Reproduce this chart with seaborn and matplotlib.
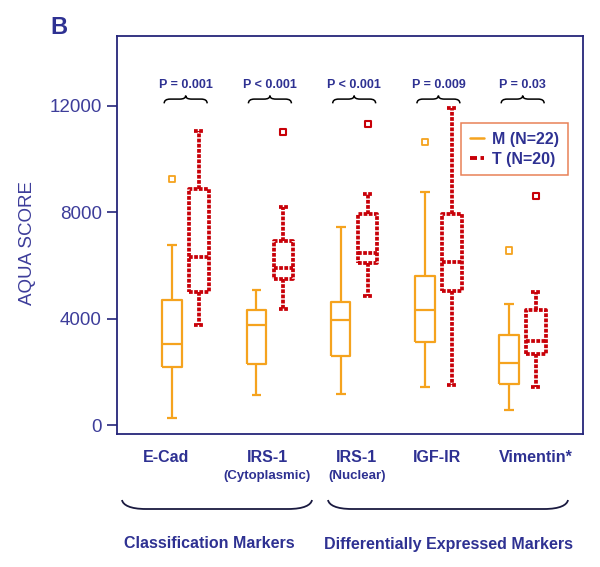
import numpy as np
import pandas as pd
import matplotlib
matplotlib.use("Agg")
import matplotlib.pyplot as plt
from matplotlib.path import Path
from matplotlib.patches import PathPatch
from matplotlib.lines import Line2D
import seaborn as sns

# ---------------- data ----------------
markers = ["E-Cad", "IRS-1 Cyto", "IRS-1 Nuc", "IGF-IR", "Vimentin*"]
groups = ["M", "T"]
legend_labels = ["M (N=22)", "T (N=20)"]

m_lo = [260, 1120, 1170, 1440, 580]
m_q1 = [2180, 2300, 2590, 3130, 1540]
m_med = [3060, 3770, 3970, 4310, 2320]
m_q3 = [4700, 4330, 4620, 5600, 3390]
m_hi = [6770, 5080, 7440, 8750, 4550]
m_out = [9250, np.nan, np.nan, 10640, 6560]

t_lo = [3750, 4360, 4860, 1500, 1440]
t_q1 = [5010, 5510, 6080, 5050, 2660]
t_med = [6300, 5910, 6480, 6120, 3180]
t_q3 = [8880, 6920, 7940, 7920, 4310]
t_hi = [11060, 8180, 8670, 11930, 4990]
t_out = [np.nan, 11030, 11320, np.nan, 8610]

p_values = ["P = 0.001", "P < 0.001", "P < 0.001", "P = 0.009", "P = 0.03"]
tick_labels = ["E-Cad", "IRS-1", "IRS-1", "IGF-IR", "Vimentin*"]
sub_labels = ["", "(Cytoplasmic)", "(Nuclear)", "", ""]
section_labels = ["Classification Markers", "Differentially Expressed Markers"]
y_ticks = [0, 4000, 8000, 12000]

# ---------------- styling ----------------
ORANGE = "#F5A31E"
RED = "#C80008"
TEXT = "#2E3192"
TICKTXT = "#3D3D9A"
SPINE = "#25257A"

sns.set_style("white")
plt.rcParams["font.family"] = ["Liberation Sans", "DejaVu Sans"]

W, H = 600, 567
fig = plt.figure(figsize=(6, 5.67), dpi=100)


def px(x, y):
    return x / W, 1 - y / H


ax = fig.add_axes([117 / W, 1 - 434 / H, (583 - 117) / W, (434 - 36) / H])

rows = []
for g, stats in [("M", (m_lo, m_q1, m_med, m_q3, m_hi)),
                 ("T", (t_lo, t_q1, t_med, t_q3, t_hi))]:
    for i, mk in enumerate(markers):
        for arr in stats:
            rows.append((mk, g, arr[i]))
df = pd.DataFrame(rows, columns=["marker", "group", "value"])

palette = {"M": ORANGE, "T": RED}
styles = {"M": ("-", 1.6), "T": ((0, (1.0, 0.38)), 2.7)}
WIDTH = 0.64
for g in groups:
    n0 = len(ax.lines)
    sns.boxplot(data=df[df["group"] == g], x="marker", y="value", hue="group",
                order=markers, hue_order=groups, palette=palette, dodge=True,
                width=WIDTH, gap=0.28, whis=(0, 100), fill=False,
                showfliers=False, linewidth=styles[g][1], legend=False, ax=ax)
    for ln in ax.lines[n0:]:
        ln.set_linestyle(styles[g][0])
        ln.set_linewidth(styles[g][1])
        ln.set_dash_capstyle("butt")
        ln.set_solid_capstyle("butt")

off = WIDTH / 4
for i in range(len(markers)):
    if not np.isnan(m_out[i]):
        ax.scatter(i - off, m_out[i], marker="s", s=20, facecolors="none",
                   edgecolors=ORANGE, linewidths=1.3, zorder=4)
    if not np.isnan(t_out[i]):
        ax.scatter(i + off, t_out[i], marker="s", s=18, facecolors="none",
                   edgecolors=RED, linewidths=1.5, zorder=4)

ax.set_xlim(-0.815, 4.716)
ax.set_ylim(-330, 14620)
ax.set_xlabel("")
ax.set_ylabel("")
ax.set_xticks([])
ax.set_yticks(y_ticks)
ax.set_yticklabels([str(v) for v in y_ticks])
ax.tick_params(axis="y", direction="out", length=7, width=1.2, color=SPINE,
               labelsize=13.5, labelcolor=TICKTXT, pad=4, left=True)
for sp in ax.spines.values():
    sp.set_visible(True)
    sp.set_color(SPINE)
    sp.set_linewidth(1.3)


# P-value braces
def brace(ax, xc, half, yb, ym, yt, r):
    x0, x1 = xc - half, xc + half
    verts = [(x0, yb), (x0, ym), (x0 + r, ym),
             (xc - r, ym), (xc, ym), (xc, yt),
             (xc, ym), (xc + r, ym),
             (x1 - r, ym), (x1, ym), (x1, yb)]
    codes = [Path.MOVETO, Path.CURVE3, Path.CURVE3,
             Path.LINETO, Path.CURVE3, Path.CURVE3,
             Path.CURVE3, Path.CURVE3,
             Path.LINETO, Path.CURVE3, Path.CURVE3]
    ax.add_patch(PathPatch(Path(verts, codes), fill=False, lw=1.1,
                           edgecolor="black", clip_on=False, zorder=5))


for i, p in enumerate(p_values):
    brace(ax, i, 0.255, 12090, 12250, 12380, 0.07)
    ax.text(i, 12780, p, ha="center", va="center", fontsize=9,
            weight="bold", color=TEXT)

# legend
handles = [Line2D([0], [0], color=ORANGE, lw=1.8),
           Line2D([0], [0], color=RED, lw=2.8, linestyle=(0, (1.8, 0.9)))]
leg = ax.legend(handles, legend_labels, loc="upper right",
                bbox_to_anchor=px(568, 123), bbox_transform=fig.transFigure,
                borderaxespad=0, frameon=True, fancybox=False,
                edgecolor="#E2622E", prop=dict(weight="bold", size=11.5),
                labelcolor=TEXT, handlelength=0.9, handletextpad=0.5,
                borderpad=0.55, labelspacing=0.3)
leg.get_frame().set_linewidth(1.1)

# figure texts
fig.text(*px(50, 27), "B", ha="left", va="center", fontsize=17,
         weight="bold", color=TEXT)
fig.text(*px(27, 243), "AQUA SCORE", rotation=90, ha="center", va="center",
         fontsize=13.5, color=TICKTXT)

label_x = [166, 267, 356.7, 437, 535.7]
for x, lab, sub in zip(label_x, tick_labels, sub_labels):
    fig.text(*px(x, 457), lab, ha="center", va="center", fontsize=11.5,
             weight="bold", color=TEXT)
    if sub:
        fig.text(*px(x, 476), sub, ha="center", va="center", fontsize=9.5,
                 weight="bold", color=TEXT)


# big section braces below the axis
def section_brace(x0, x1, ytop, ybot):
    verts = [px(x0, ytop), px(x0 + 1, ytop + 5), px(x0 + 8, ybot), px(x0 + 24, ybot),
             px(x1 - 24, ybot),
             px(x1 - 8, ybot), px(x1 - 1, ytop + 5), px(x1, ytop)]
    codes = [Path.MOVETO, Path.CURVE4, Path.CURVE4, Path.CURVE4,
             Path.LINETO,
             Path.CURVE4, Path.CURVE4, Path.CURVE4]
    fig.add_artist(PathPatch(Path(verts, codes), fill=False, lw=1.3,
                             edgecolor="#1A1A40", transform=fig.transFigure))


section_brace(122, 312, 500, 509)
section_brace(328, 568, 500, 509)
fig.text(*px(209.7, 544), section_labels[0], ha="center", va="center",
         fontsize=11.5, weight="bold", color=TEXT)
fig.text(*px(448.3, 544), section_labels[1], ha="center", va="center",
         fontsize=11.5, weight="bold", color=TEXT)

fig.savefig("out.png", dpi=100)
